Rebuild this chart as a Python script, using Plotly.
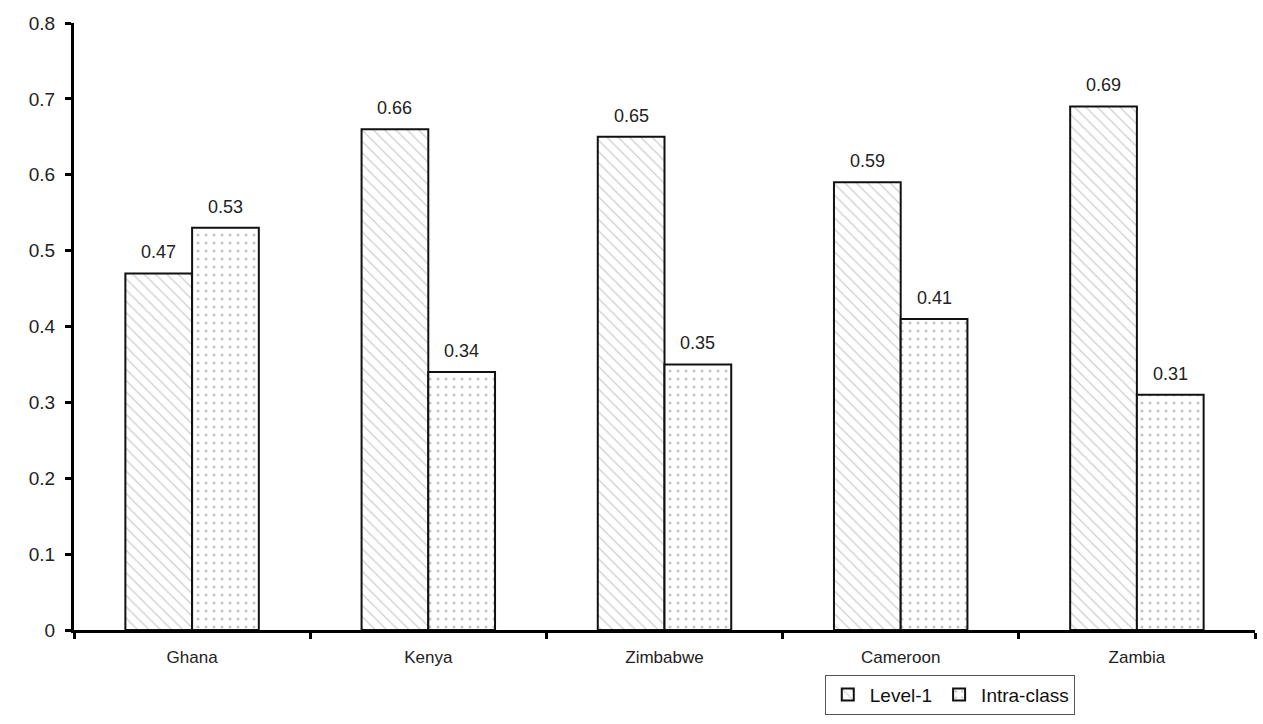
import plotly.graph_objects as go

countries = ["Ghana", "Kenya", "Zimbabwe", "Cameroon", "Zambia"]
level1 = [0.47, 0.66, 0.65, 0.59, 0.69]
intra_class = [0.53, 0.34, 0.35, 0.41, 0.31]
y_ticks = [0, 0.1, 0.2, 0.3, 0.4, 0.5, 0.6, 0.7, 0.8]
y_tick_labels = ["0", "0.1", "0.2", "0.3", "0.4", "0.5", "0.6", "0.7", "0.8"]

FONT = "Liberation Sans, Arial, sans-serif"
BARGAP = 0.435
half_bar = (1 - BARGAP) / 4  # offset of each bar centre from its category centre

fig = go.Figure()
fig.add_trace(go.Bar(
    name="Level-1", x=countries, y=level1,
    marker=dict(color="white", line=dict(color="#111", width=2),
                pattern=dict(shape="\\", fgcolor="#9a9a9a", bgcolor="white",
                             size=8, solidity=0.15)),
))
fig.add_trace(go.Bar(
    name="Intra-class", x=countries, y=intra_class,
    marker=dict(color="white", line=dict(color="#111", width=2),
                pattern=dict(shape=".", fgcolor="#8a8a8a", bgcolor="white",
                             size=8, solidity=0.12)),
))

# value labels above each bar
for series, sign in ((level1, -1), (intra_class, 1)):
    for i, v in enumerate(series):
        fig.add_annotation(
            x=i + sign * half_bar, y=v, xref="x", yref="y",
            text=f"{v:.2f}", showarrow=False, yanchor="bottom", yshift=9,
            font=dict(size=18, color="#222", family=FONT),
        )

fig.update_layout(
    width=1263, height=724,
    margin=dict(l=74, r=8, t=23, b=94),
    paper_bgcolor="white", plot_bgcolor="white",
    barmode="group", bargap=BARGAP, bargroupgap=0,
    font=dict(family=FONT, color="#222"),
    legend=dict(orientation="h", xref="container", yref="container",
                x=0.752, xanchor="center", y=0.068, yanchor="top",
                bordercolor="#555", borderwidth=1, font=dict(size=19, color="#111"),
                itemwidth=34, traceorder="normal"),
    showlegend=True,
)
fig.update_yaxes(
    range=[0, 0.8], tickvals=y_ticks, ticktext=y_tick_labels,
    showline=True, linecolor="black", linewidth=3, showgrid=False, zeroline=False,
    ticks="outside", ticklen=6, tickwidth=3, tickcolor="black",
    ticklabelstandoff=6,
    tickfont=dict(size=19, color="#222"),
)
fig.update_xaxes(
    showline=True, linecolor="black", linewidth=3, showgrid=False,
    ticks="outside", tickson="boundaries", ticklen=6, tickwidth=3, tickcolor="black",
    ticklabelstandoff=10,
    tickfont=dict(size=17, color="#222"),
)

fig.write_html("out.html")
